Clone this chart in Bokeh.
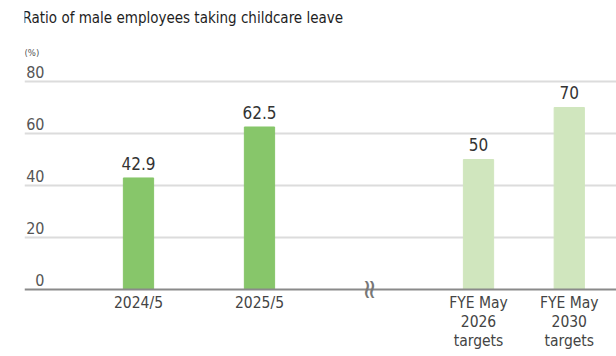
from bokeh.plotting import figure
from bokeh.models import Range1d, Label, ColumnDataSource
from bokeh.core.properties import value
from bokeh.embed import file_html
from bokeh.resources import INLINE
import math

# ---- data ----
categories = ["2024/5", "2025/5", "FYE May\n2026\ntargets", "FYE May\n2030\ntargets"]
values = [42.9, 62.5, 50, 70]
value_labels = ["42.9", "62.5", "50", "70"]
kinds = ["actual", "actual", "target", "target"]
y_ticks = [0, 20, 40, 60, 80]
y_tick_labels = ["0", "20", "40", "60", "80"]
title_text = "Ratio of male employees taking childcare leave"
unit_text = "(%)"

# ---- layout (slot positions along x) ----
slots = [1.0, 2.0, 3.81, 4.56]
break_slot = 2.90
bar_w = 0.25

FONT = "DejaVu Sans Condensed"
colors = {"actual": "#87c66a", "target": "#d0e6be"}

p = figure(width=616, height=356, output_backend="svg", toolbar_location=None,
           min_border_left=24, min_border_right=0, min_border_top=0, min_border_bottom=0,
           x_range=Range1d(0.0579, 4.9504), y_range=Range1d(-25.77, 111.15))
p.axis.visible = False
p.grid.visible = False
p.outline_line_color = None
p.background_fill_color = "white"
p.border_fill_color = "white"

# gridlines
for t in y_ticks[1:]:
    p.hspan(y=t, line_color="#dcdcdc", line_width=2)

src = ColumnDataSource(dict(x=slots, top=values, cat=categories, lab=value_labels,
                            color=[colors[k] for k in kinds]))
p.vbar(x="x", top="top", width=bar_w, bottom=0, color="color", source=src)

# baseline axis
p.hspan(y=0, line_color="#8a8a8a", line_width=2)

# value labels
p.text(x="x", y="top", text="lab", source=src, text_align="center", text_baseline="bottom",
       y_offset=-8, text_font=value(FONT), text_font_size="17px", text_color="#333333")

# category labels
p.text(x="x", y=0, text="cat", source=src, text_align="center", text_baseline="top",
       y_offset=5, text_font=value(FONT), text_font_size="15.5px", text_color="#444444",
       text_line_height=1.05)

# y tick labels
p.text(x=[p.x_range.start] * len(y_ticks), y=y_ticks, text=y_tick_labels,
       text_align="right", text_baseline="bottom", x_offset=20, y_offset=-3,
       text_font=value(FONT), text_font_size="16px", text_color="#555555")

# axis break mark
p.text(x=[break_slot], y=[0], text=["≈"], angle=math.pi / 2, text_align="center",
       text_baseline="middle", text_font=value("DejaVu Sans"), text_font_size="27px",
       text_color="#777777")

# title and unit
p.add_layout(Label(x=-2, y=356 - 26, x_units="screen", y_units="screen", text=title_text,
                   text_font=FONT, text_font_size="15px", text_color="#1e1e1e"))
p.add_layout(Label(x=0, y=356 - 57, x_units="screen", y_units="screen", text=unit_text,
                   text_font=FONT, text_font_size="9.5px", text_color="#555555"))

open("out.html", "w").write(file_html(p, INLINE))
